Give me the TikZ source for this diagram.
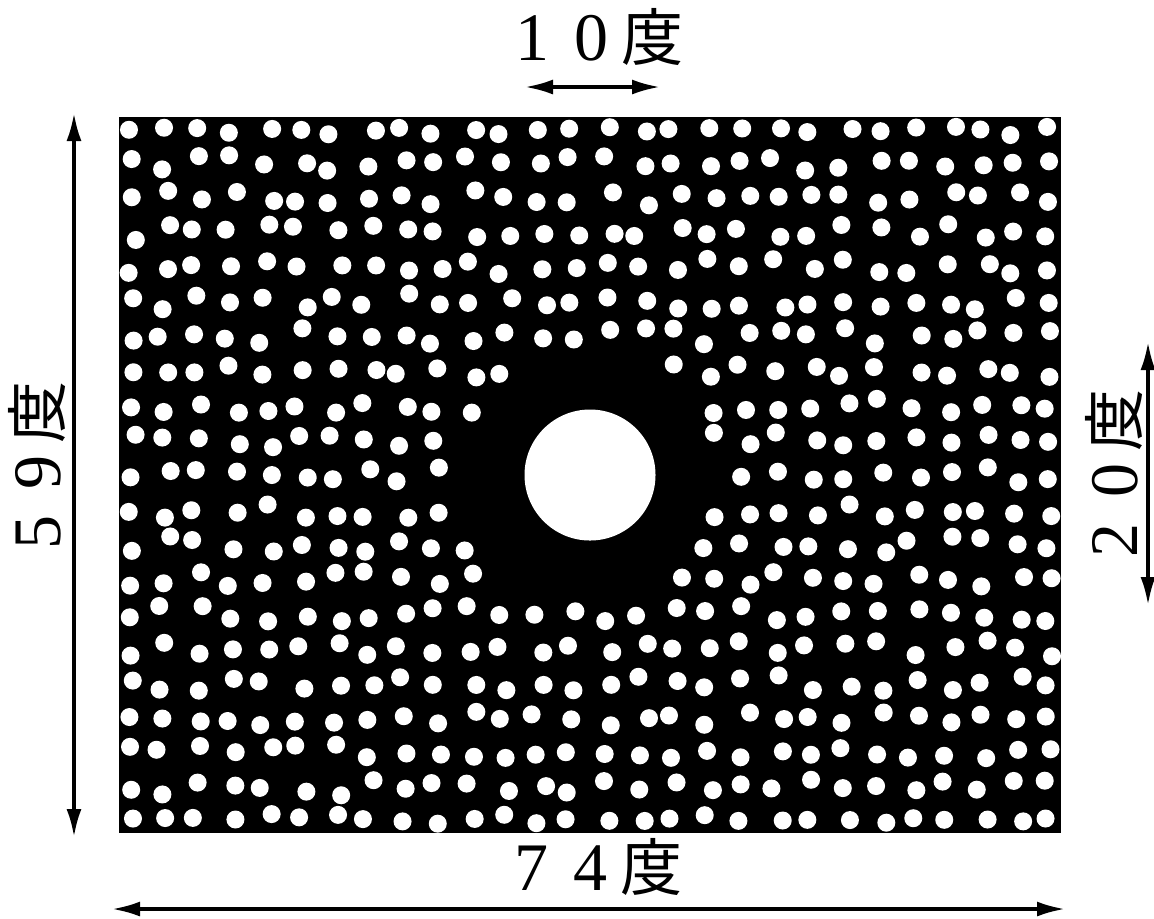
\documentclass[tikz,border=0pt]{standalone}
\usepackage{fontspec}
\setmainfont{Liberation Serif}
\newfontfamily\jpfont{Noto Sans CJK JP}
\usetikzlibrary{arrows.meta}
\newcommand{\dg}[1]{\makebox[30pt]{\fontsize{34}{34}\selectfont #1}}
\newcommand{\du}{\makebox[30pt]{\fontsize{31}{31}\selectfont\jpfont 度}}
\begin{document}
\begin{tikzpicture}[x=0.5pt,y=-0.5pt,
  dim/.style={line width=1.7pt,{Latex[length=14pt,width=7.5pt]}-{Latex[length=14pt,width=7.5pt]}},
  lbl/.style={inner sep=0pt, anchor=base},
  field/.style={fill=black},
  wdot/.style={fill=white}]
\useasboundingbox (0,0) rectangle (1154,918);
% black field
\fill[field] (119,117) rectangle (1061,833);
% random white dots
\pgfmathsetseed{7}
\foreach \i in {0,...,27}{
  \foreach \j in {0,...,20}{
    \pgfmathsetmacro\qx{130+\i*34.1+8*rand}
    \pgfmathsetmacro\qy{128+\j*34.7+8*rand}
    \pgfmathsetmacro\px{max(min(\qx,2104-\qx),256-\qx)}
    \pgfmathsetmacro\py{max(min(\qy,1648-\qy),252-\qy)}
    \pgfmathsetmacro\dd{veclen(\px-590,\py-475)}
    \ifdim\dd pt>128pt \fill[wdot] (\px,\py) circle[radius=9];\fi
  }}
% central disc
\fill[wdot] (590,475) circle[radius=65.5];
% dimension arrows
\coordinate (t1) at (525,87);
\coordinate (t2) at (660,87);
\draw[dim] (t1) -- (t2);
\coordinate (l1) at (74,113);
\coordinate (l2) at (74,837);
\draw[dim] (l1) -- (l2);
\coordinate (r1) at (1148,342);
\coordinate (r2) at (1148,605);
\draw[dim] (r1) -- (r2);
\coordinate (b1) at (112,909);
\coordinate (b2) at (1065,909);
\draw[dim] (b1) -- (b2);
% labels
\node[lbl] (toplbl) at (592,60) {\dg{1}\dg{0}\du};
\node[lbl] (botlbl) at (591,890) {\dg{7}\dg{4}\du};
\node[lbl,rotate=90] (leftlbl) at (60,472) {\dg{5}\dg{9}\du};
\node[lbl,rotate=90] (rightlbl) at (1137,480) {\dg{2}\dg{0}\du};
\end{tikzpicture}
\end{document}
